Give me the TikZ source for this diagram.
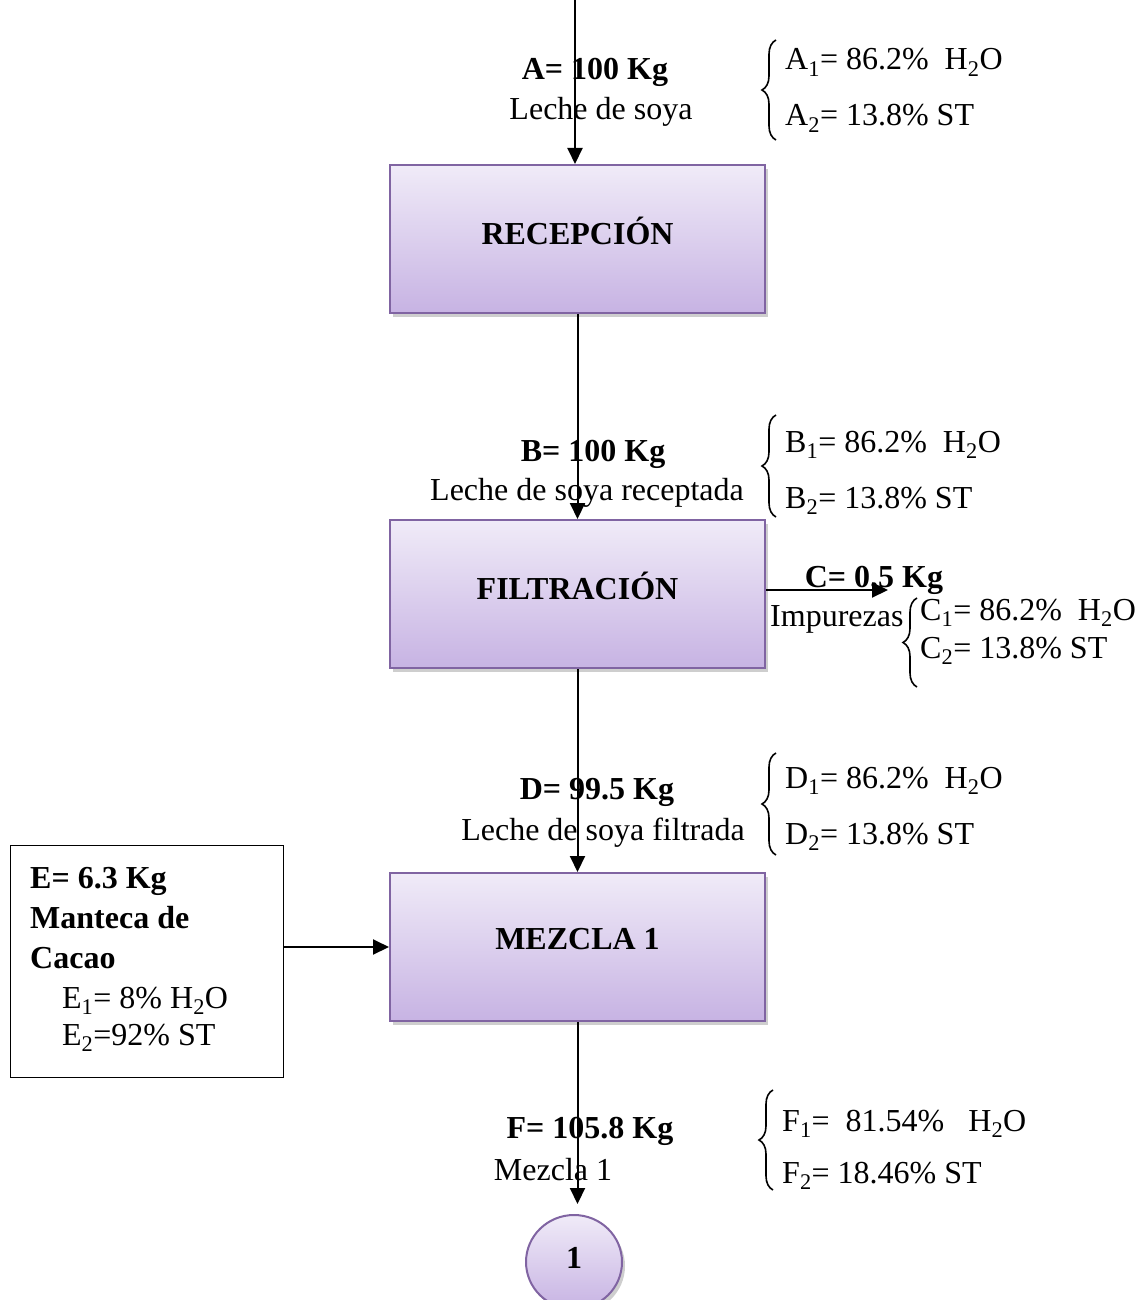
\documentclass[tikz,border=0pt]{standalone}
\usepackage{fontspec}
\setmainfont{Liberation Serif}
\usetikzlibrary{shapes.geometric,shadows,decorations.pathreplacing,arrows.meta}

\definecolor{boxline}{HTML}{8064A2}
\definecolor{boxtop}{HTML}{F0EBF8}
\definecolor{boxbot}{HTML}{C7B3E3}

\newcommand{\sub}[1]{\textsubscript{#1}}

\begin{document}
\begin{tikzpicture}[x=1pt,y=-1pt,
  every node/.style={font=\fontsize{32}{38}\selectfont, inner sep=0pt},
  stage/.style={draw=boxline, line width=2pt, top color=boxtop, bottom color=boxbot,
    minimum width=375pt, minimum height=148pt, text depth=16pt,
    drop shadow={shadow xshift=3pt, shadow yshift=-4pt, opacity=0.35, fill=black!55},
    font=\fontsize{32}{38}\selectfont\bfseries},
  connector/.style={draw=boxline, line width=2pt, top color=boxtop, bottom color=boxbot,
    ellipse, minimum width=96pt, minimum height=94pt, text depth=8pt,
    drop shadow={shadow xshift=3pt, shadow yshift=-4pt, opacity=0.35, fill=black!55},
    font=\fontsize{32}{38}\selectfont\bfseries},
  flow/.style={line width=2pt, -{Triangle[length=16pt,width=15pt]}},
  brc/.style={decorate, decoration={brace, amplitude=14pt}, line width=1.6pt},
  txt/.style={anchor=base},
  txtl/.style={anchor=base west}
]
\useasboundingbox (0,0) rectangle (1135,1300);

% process stages
\node[stage] (rec) at (577.5,239) {RECEPCIÓN};
\node[stage] (fil) at (577.5,594) {FILTRACIÓN};
\node[stage] (mez) at (577.5,947) {MEZCLA 1};
\node[connector] (con) at (574,1262) {1};

% side feed box
\node[draw, line width=1pt, minimum width=273pt, minimum height=232pt] (ebox) at (146.5,961) {};
\node[txtl] (e0) at (30,888) {\textbf{E= 6.3 Kg}};
\node[txtl] (e1) at (30,928) {\textbf{Manteca de}};
\node[txtl] (e2) at (30,968) {\textbf{Cacao}};
\node[txtl] (e3) at (62,1008) {E\sub{1}= 8\% H\sub{2}O};
\node[txtl] (e4) at (62,1045) {E\sub{2}=92\% ST};

% stream A
\node[txt] (a0) at (595,80) {\textbf{A= 100 Kg}};
\node[txt] (a1) at (601,120) {Leche de soya};
\node[txtl] (a2) at (785,70) {A\sub{1}= 86.2\%~ H\sub{2}O};
\node[txtl] (a3) at (785,126) {A\sub{2}= 13.8\% ST};
\draw[brc] (776,140) -- (776,40);

% stream B
\node[txt] (b0) at (593,461) {\textbf{B= 100 Kg}};
\node[txt] (b1) at (587,500) {Leche de soya receptada};
\node[txtl] (b2) at (785,452) {B\sub{1}= 86.2\%~ H\sub{2}O};
\node[txtl] (b3) at (785,508) {B\sub{2}= 13.8\% ST};
\draw[brc] (776,517) -- (776,415);

% stream C
\node[txt] (c0) at (874,587) {\textbf{C= 0.5 Kg}};
\node[txtl] (c1) at (770,626) {Impurezas};
\node[txtl] (c2) at (920,620) {C\sub{1}= 86.2\%~ H\sub{2}O};
\node[txtl] (c3) at (920,658) {C\sub{2}= 13.8\% ST};
\draw[brc] (917,687) -- (917,598);

% stream D
\node[txt] (d0) at (597,799) {\textbf{D= 99.5 Kg}};
\node[txt] (d1) at (603,840) {Leche de soya filtrada};
\node[txtl] (d2) at (785,788) {D\sub{1}= 86.2\%~ H\sub{2}O};
\node[txtl] (d3) at (785,844) {D\sub{2}= 13.8\% ST};
\draw[brc] (776,855) -- (776,753);

% stream F
\node[txt] (f0) at (590,1138) {\textbf{F= 105.8 Kg}};
\node[txt] (f1) at (553,1180) {Mezcla 1};
\node[txtl] (f2) at (782,1131) {F\sub{1}=~ 81.54\%~~ H\sub{2}O};
\node[txtl] (f3) at (782,1183) {F\sub{2}= 18.46\% ST};
\draw[brc] (773,1190) -- (773,1090);

% flow lines
\coordinate (start) at (575,0);
\coordinate (cend) at (888,590);
\draw[flow] (start) -- (start |- rec.north);
\draw[flow] (rec.south) -- (fil.north);
\draw[flow] (fil.south) -- (mez.north);
\draw[flow] (fil.east |- cend) -- (cend);
\draw[flow] (ebox.east |- mez.west) -- (mez.west);
\draw[flow, shorten >=10pt] (mez.south) -- (mez.south |- con.north);
\end{tikzpicture}
\end{document}
